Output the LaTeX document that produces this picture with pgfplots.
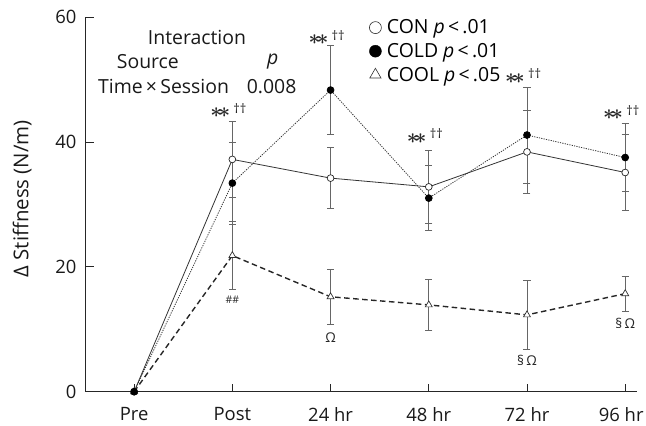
\documentclass[border=0pt]{standalone}
\usepackage{fontspec}
\setmainfont{Open Sans}
\usepackage{pgfplots}
\pgfplotsset{compat=1.18}
\pgfplotstableread{
x y e
0 0 0
1 37.2 6.1
2 34.2 4.9
3 32.8 5.8
4 38.4 6.7
5 35.1 6.1
}\con
\pgfplotstableread{
x y e
0 0 0
1 33.4 6.6
2 48.3 7.1
3 31.0 5.2
4 41.1 7.7
5 37.5 5.4
}\cold
\pgfplotstableread{
x y e
0 0 0
1 21.8 5.4
2 15.2 4.4
3 13.9 4.1
4 12.3 5.5
5 15.7 2.8
}\cool
\newcommand\fs{\fontsize{18.5}{21}\selectfont}
\newcommand\fl{\fontsize{19.5}{22}\selectfont}
\newcommand\sig{{\fontsize{20}{22}\selectfont\boldmath$\ast\!\ast$\,\raisebox{0.45ex}{\fontsize{13}{15}\selectfont ††}}}
\begin{document}
\begin{tikzpicture}[font=\fs]
\begin{axis}[
  at={(0,0)}, anchor=south west,
  scale only axis, width=551bp, height=374.7bp,
  xmin=-0.49, xmax=5.12, ymin=0, ymax=60,
  axis lines*=left,
  axis line style={line width=1bp, black!85},
  tick align=inside,
  major tick length=8bp,
  tick style={black!85, line width=0.8bp},
  xtick={0,...,5},
  xticklabels={Pre,Post,24 hr,48 hr,72 hr,\hspace*{-8bp}96 hr},
  ytick={0,20,40,60},
  /pgf/number format/assume math mode=true,
  tick label style={font=\fs, black!90},
  xticklabel style={yshift=-12bp},
  yticklabel style={xshift=-6bp},
  ylabel={Δ Stiffness (N/m)},
  ylabel style={at={(axis description cs:-0.116,0.515)}, anchor=center, font=\fontsize{20.5}{23}\selectfont, black!90},
  clip=false,
  legend style={at={(axis description cs:0.514,0.997)}, anchor=north west, draw=none, fill=none,
    font=\fl, inner sep=0pt, row sep=5bp, nodes={inner ysep=1.5bp, inner xsep=1.5bp},
    /tikz/every odd column/.append style={column sep=4bp}},
  legend image code/.code={\draw[#1] plot coordinates {(0bp,0bp)};},
  legend cell align=left,
  error bars/y dir=both, error bars/y explicit,
  error bars/error bar style={black!60, line width=0.8bp, solid},
  error bars/error mark options={rotate=90, black!60, mark size=3.5bp, line width=0.8bp},
]
\addlegendimage{only marks, mark=*, mark size=6bp, mark options={fill=white, draw=black!80, line width=0.6bp}}
\addlegendentry{CON \textit{p}\,<\,.01}
\addlegendimage{only marks, mark=*, mark size=6bp, mark options={fill=black, draw=black}}
\addlegendentry{COLD \textit{p}\,<\,.01}
\addlegendimage{only marks, mark=triangle, mark size=6.5bp, mark options={fill=white, draw=black!80, line width=0.6bp}}
\addlegendentry{COOL \textit{p}\,<\,.05}

\addplot[forget plot, black!85, line width=1.4bp, dash pattern=on 5.5bp off 3.5bp,
  mark=triangle*, mark size=4bp, mark options={solid, fill=white, draw=black!80, line width=0.7bp}]
  table[x=x, y=y, y error=e]{\cool};
\addplot[forget plot, black!80, line width=0.8bp,
  mark=*, mark size=3.4bp, mark options={solid, fill=white, draw=black!85, line width=0.7bp}]
  table[x=x, y=y, y error=e]{\con};
\addplot[forget plot, black!80, line width=0.8bp, dash pattern=on 1.2bp off 1.2bp,
  mark=*, mark size=3.4bp, mark options={solid, fill=black, draw=black}]
  table[x=x, y=y, y error=e]{\cold};

\node[black!90, font=\fl] at (axis cs:0.64,56.7) {Interaction};
\node[black!90, font=\fl] at (axis cs:0.14,52.9) {Source};
\node[black!90, font=\fl] at (axis cs:1.41,52.9) {\textit{p}};
\node[black!90, font=\fl] at (axis cs:0.30,48.9) {Time\,×\,Session};
\node[black!90, font=\fl] at (axis cs:1.40,48.9) {0.008};

\node[black!85] at (axis cs:0.96,45.0) {\sig};
\node[black!85] at (axis cs:1.96,56.7) {\sig};
\node[black!85] at (axis cs:2.96,40.9) {\sig};
\node[black!85] at (axis cs:3.96,50.5) {\sig};
\node[black!85] at (axis cs:4.96,44.7) {\sig};

\node[black!85, font=\fontsize{10.5}{12}\selectfont] at (axis cs:1,14.7) {\#\#};
\node[black!85, font=\fontsize{13.5}{15}\selectfont] at (axis cs:2,8.7) {Ω};
\node[black!85, font=\fontsize{13.5}{15}\selectfont] at (axis cs:4,5.0) {§\,Ω};
\node[black!85, font=\fontsize{13.5}{15}\selectfont] at (axis cs:5,10.9) {§\,Ω};
\end{axis}
\pgfresetboundingbox
\path[use as bounding box] (-86bp,-34.3bp) rectangle (560bp,391.7bp);
\end{tikzpicture}
\end{document}
